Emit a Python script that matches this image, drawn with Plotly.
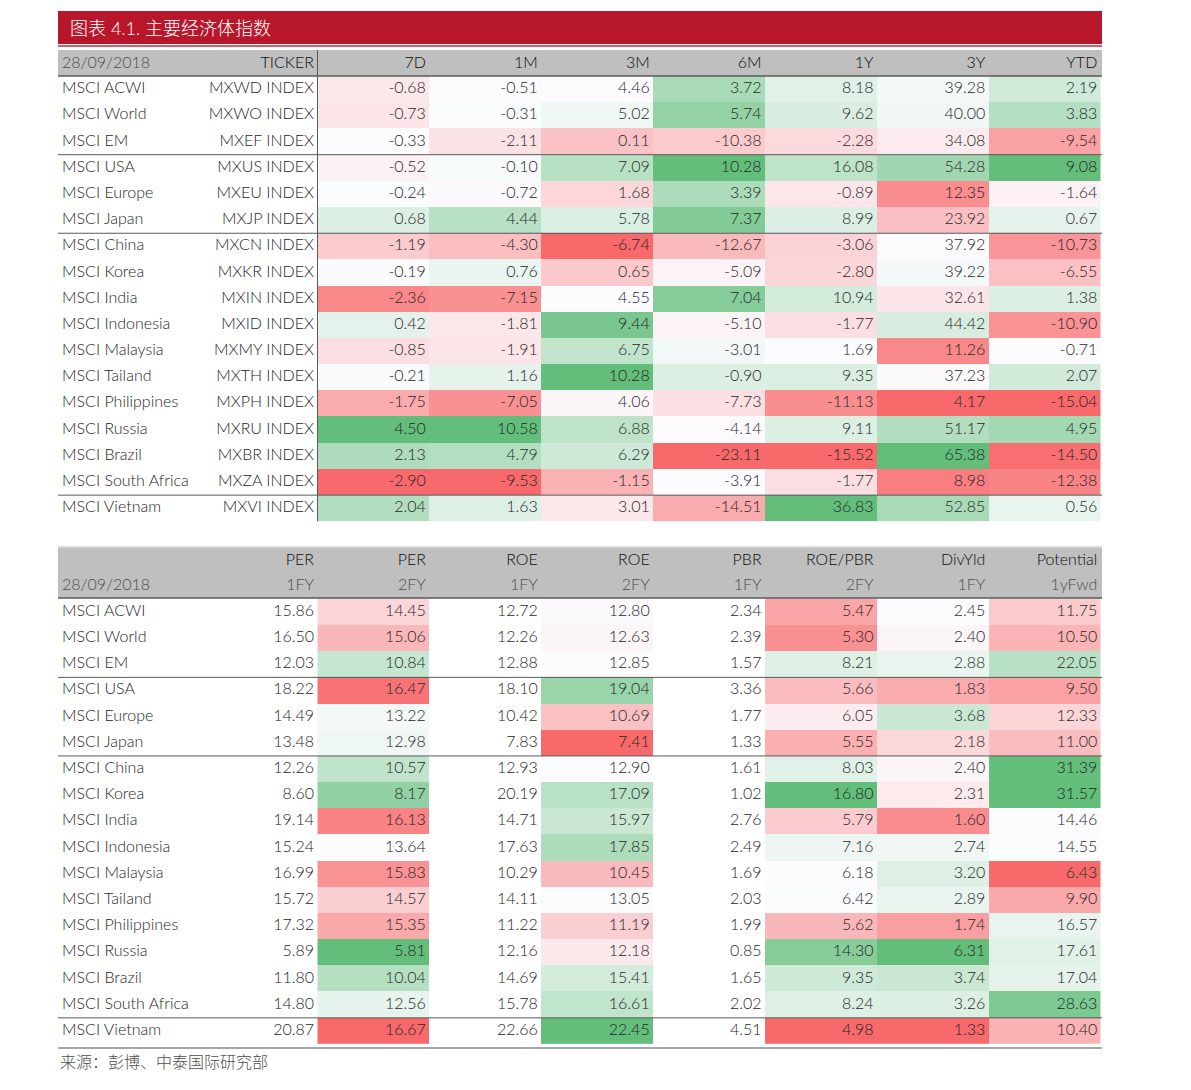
import numpy as np
import plotly.graph_objects as go

# ---------------- data ----------------
names = ["MSCI ACWI", "MSCI World", "MSCI EM", "MSCI USA", "MSCI Europe", "MSCI Japan",
         "MSCI China", "MSCI Korea", "MSCI India", "MSCI Indonesia", "MSCI Malaysia",
         "MSCI Tailand", "MSCI Philippines", "MSCI Russia", "MSCI Brazil",
         "MSCI South Africa", "MSCI Vietnam"]
tickers = ["MXWD INDEX", "MXWO INDEX", "MXEF INDEX", "MXUS INDEX", "MXEU INDEX", "MXJP INDEX",
           "MXCN INDEX", "MXKR INDEX", "MXIN INDEX", "MXID INDEX", "MXMY INDEX",
           "MXTH INDEX", "MXPH INDEX", "MXRU INDEX", "MXBR INDEX", "MXZA INDEX", "MXVI INDEX"]
periods = ["7D", "1M", "3M", "6M", "1Y", "3Y", "YTD"]
ret_7d = [-0.68, -0.73, -0.33, -0.52, -0.24, 0.68, -1.19, -0.19, -2.36, 0.42, -0.85, -0.21, -1.75, 4.50, 2.13, -2.90, 2.04]
ret_1m = [-0.51, -0.31, -2.11, -0.10, -0.72, 4.44, -4.30, 0.76, -7.15, -1.81, -1.91, 1.16, -7.05, 10.58, 4.79, -9.53, 1.63]
ret_3m = [4.46, 5.02, 0.11, 7.09, 1.68, 5.78, -6.74, 0.65, 4.55, 9.44, 6.75, 10.28, 4.06, 6.88, 6.29, -1.15, 3.01]
ret_6m = [3.72, 5.74, -10.38, 10.28, 3.39, 7.37, -12.67, -5.09, 7.04, -5.10, -3.01, -0.90, -7.73, -4.14, -23.11, -3.91, -14.51]
ret_1y = [8.18, 9.62, -2.28, 16.08, -0.89, 8.99, -3.06, -2.80, 10.94, -1.77, 1.69, 9.35, -11.13, 9.11, -15.52, -1.77, 36.83]
ret_3y = [39.28, 40.00, 34.08, 54.28, 12.35, 23.92, 37.92, 39.22, 32.61, 44.42, 11.26, 37.23, 4.17, 51.17, 65.38, 8.98, 52.85]
ret_ytd = [2.19, 3.83, -9.54, 9.08, -1.64, 0.67, -10.73, -6.55, 1.38, -10.90, -0.71, 2.07, -15.04, 4.95, -14.50, -12.38, 0.56]

hdr2_top = ["PER", "PER", "ROE", "ROE", "PBR", "ROE/PBR", "DivYld", "Potential"]
hdr2_bot = ["1FY", "2FY", "1FY", "2FY", "1FY", "2FY", "1FY", "1yFwd"]
per_1fy = [15.86, 16.50, 12.03, 18.22, 14.49, 13.48, 12.26, 8.60, 19.14, 15.24, 16.99, 15.72, 17.32, 5.89, 11.80, 14.80, 20.87]
per_2fy = [14.45, 15.06, 10.84, 16.47, 13.22, 12.98, 10.57, 8.17, 16.13, 13.64, 15.83, 14.57, 15.35, 5.81, 10.04, 12.56, 16.67]
roe_1fy = [12.72, 12.26, 12.88, 18.10, 10.42, 7.83, 12.93, 20.19, 14.71, 17.63, 10.29, 14.11, 11.22, 12.16, 14.69, 15.78, 22.66]
roe_2fy = [12.80, 12.63, 12.85, 19.04, 10.69, 7.41, 12.90, 17.09, 15.97, 17.85, 10.45, 13.05, 11.19, 12.18, 15.41, 16.61, 22.45]
pbr_1fy = [2.34, 2.39, 1.57, 3.36, 1.77, 1.33, 1.61, 1.02, 2.76, 2.49, 1.69, 2.03, 1.99, 0.85, 1.65, 2.02, 4.51]
roe_pbr = [5.47, 5.30, 8.21, 5.66, 6.05, 5.55, 8.03, 16.80, 5.79, 7.16, 6.18, 6.42, 5.62, 14.30, 9.35, 8.24, 4.98]
div_yld = [2.45, 2.40, 2.88, 1.83, 3.68, 2.18, 2.40, 2.31, 1.60, 2.74, 3.20, 2.89, 1.74, 6.31, 3.74, 3.26, 1.33]
potential = [11.75, 10.50, 22.05, 9.50, 12.33, 11.00, 31.39, 31.57, 14.46, 14.55, 6.43, 9.90, 16.57, 17.61, 17.04, 28.63, 10.40]

title_text = "图表 4.1. 主要经济体指数"
date_text = "28/09/2018"
source_text = "来源：彭博、中泰国际研究部"

# ---------------- style / layout constants ----------------
W, H = 1191, 1090
PAGE_MARGIN = 8  # default body margin of the html page
X_L, X_R = 58, 1102
X_NAME = 62
X_TICK_R = 314
COL0 = 317.5
COLW = 111.9
ROWH = 26.19
T1_HDR = (50, 76)
T1_ROW0 = 89.2
T2_HDR = (547, 598)
T2_ROW0 = 611.9
FONT = "Lato, Noto Sans CJK SC, sans-serif"
FW = 300
TXT = "#262626"
HDR_TXT = "#0D0D0D"
SUB_TXT = "#4D4D4D"
FS = 16
CSCALE = [[0.0, "rgb(248,105,107)"], [0.5, "rgb(252,252,255)"], [1.0, "rgb(99,190,123)"]]


def scale_pos(vals, reverse=False):
    a = np.array(vals, float)
    lo, hi, mid = a.min(), a.max(), np.percentile(a, 50)
    t = np.where(a <= mid, 0.5 * (a - lo) / (mid - lo), 0.5 + 0.5 * (a - mid) / (hi - mid))
    return 1 - t if reverse else t


n = len(names)
col_centers = [COL0 + COLW * (i + 0.5) for i in range(7)]
col_right = [COL0 + COLW * (i + 1) - 3.5 for i in range(7)]
rows1 = [T1_ROW0 + ROWH * i for i in range(n)]
rows2 = [T2_ROW0 + ROWH * i for i in range(n)]

fig = go.Figure()

# ---- table 1 heatmap ----
t1_cols = [ret_7d, ret_1m, ret_3m, ret_6m, ret_1y, ret_3y, ret_ytd]
z1 = np.array([scale_pos(c) for c in t1_cols]).T
fig.add_trace(go.Heatmap(x=col_centers, y=rows1, z=z1, colorscale=CSCALE, zmin=0, zmax=1,
                         showscale=False, hoverinfo="skip"))

# ---- table 2 heatmap (colored columns only) ----
t2_cols = [per_2fy, roe_1fy, roe_2fy, pbr_1fy, roe_pbr, div_yld, potential]
t2_colored = [True, False, True, False, True, True, True]
t2_reverse = [True, False, False, False, False, False, False]
z2 = []
for c, on, rev in zip(t2_cols, t2_colored, t2_reverse):
    z2.append(list(scale_pos(c, rev)) if on else [None] * n)
z2 = np.array(z2, dtype=object).T.tolist()
fig.add_trace(go.Heatmap(x=col_centers, y=rows2, z=z2, colorscale=CSCALE, zmin=0, zmax=1,
                         showscale=False, hoverinfo="skip", hoverongaps=False))


def add_text(xs, ys, texts, pos, color=TXT, size=FS):
    fig.add_trace(go.Scatter(x=xs, y=ys, text=texts, mode="text", textposition=pos,
                             textfont=dict(family=FONT, size=size, color=color, weight=FW),
                             hoverinfo="skip", showlegend=False))


# table 1 texts
add_text([X_NAME] * n, rows1, names, "middle right")
add_text([X_TICK_R] * n, rows1, tickers, "middle left")
for i, c in enumerate(t1_cols):
    add_text([col_right[i]] * n, rows1, [f"{v:.2f}" for v in c], "middle left")
hy1 = sum(T1_HDR) / 2 + 0.5
add_text([X_NAME], [hy1], [date_text], "middle right", SUB_TXT)
add_text([X_TICK_R] + col_right, [hy1] * 8, ["TICKER"] + periods, "middle left", HDR_TXT)

# table 2 texts
add_text([X_NAME] * n, rows2, names, "middle right")
add_text([X_TICK_R] * n, rows2, [f"{v:.2f}" for v in per_1fy], "middle left")
for i, c in enumerate(t2_cols):
    add_text([col_right[i]] * n, rows2, [f"{v:.2f}" for v in c], "middle left")
hx2 = [X_TICK_R] + col_right
add_text(hx2, [560.5] * 8, hdr2_top, "middle left", HDR_TXT)
add_text(hx2, [586] * 8, hdr2_bot, "middle left", SUB_TXT)
add_text([X_NAME], [586], [date_text], "middle right", SUB_TXT)

# ---------------- shapes ----------------
shapes = []
shapes.append(dict(type="rect", x0=X_L, x1=X_R, y0=11, y1=44, fillcolor="#B8172B",
                   line_width=0, layer="below"))
shapes.append(dict(type="line", x0=X_L, x1=X_R, y0=46, y1=46, line=dict(color="#C8283A", width=1.5)))
for (a, b) in [T1_HDR, T2_HDR]:
    shapes.append(dict(type="rect", x0=X_L, x1=X_R, y0=a, y1=b, fillcolor="#BFBFBF",
                       line_width=0, layer="below"))
    shapes.append(dict(type="line", x0=X_L, x1=X_R, y0=b, y1=b, line=dict(color="#595959", width=1.5)))
shapes.append(dict(type="line", x0=X_L, x1=X_R, y0=T2_HDR[0], y1=T2_HDR[0],
                   line=dict(color="#D9D9D9", width=1.5)))
shapes.append(dict(type="line", x0=COL0, x1=COL0, y0=T1_HDR[0], y1=rows1[-1] + ROWH / 2,
                   line=dict(color="#595959", width=1)))
for r0 in (T1_ROW0, T2_ROW0):
    for k in (2.5, 5.5, 15.5):
        yy = r0 + ROWH * k
        shapes.append(dict(type="line", x0=X_L, x1=X_R, y0=yy, y1=yy,
                           line=dict(color="#595959", width=1)))
shapes.append(dict(type="line", x0=X_L, x1=X_R, y0=1048, y1=1048, line=dict(color="#A6A6A6", width=2)))

annotations = [
    dict(x=68, y=28, text=title_text, showarrow=False, xanchor="left", yanchor="middle",
         font=dict(family="Lato, Noto Sans CJK SC", size=18, color="white", weight=FW)),
    dict(x=X_L, y=1061, text=source_text, showarrow=False, xanchor="left", yanchor="middle",
         font=dict(family="Noto Sans CJK SC", size=16, color=SUB_TXT, weight=FW)),
]

fig.update_layout(
    width=W - 2 * PAGE_MARGIN, height=H - 2 * PAGE_MARGIN, margin=dict(l=0, r=0, t=0, b=0),
    paper_bgcolor="white", plot_bgcolor="white", showlegend=False,
    xaxis=dict(range=[PAGE_MARGIN, W - PAGE_MARGIN], visible=False, fixedrange=True),
    yaxis=dict(range=[H - PAGE_MARGIN, PAGE_MARGIN], visible=False, fixedrange=True),
    shapes=shapes, annotations=annotations,
)

fig.write_html("out.html")
